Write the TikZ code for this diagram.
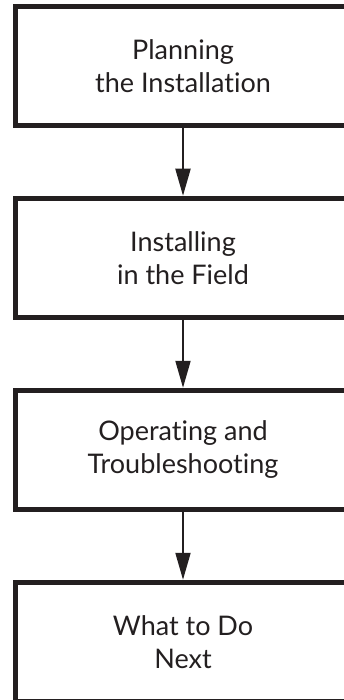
\documentclass[tikz,border=0pt]{standalone}
\usepackage{fontspec}
\setmainfont{Lato}[Ligatures=NoCommon]
\usetikzlibrary{arrows.meta}
\usetikzlibrary{positioning}
\definecolor{inkblack}{HTML}{231F20}
\tikzset{stage/.style = {draw=inkblack, text=inkblack, line width=5pt,
                         minimum width=335pt, minimum height=119pt,
                         align=center, font=\fontsize{27}{33}\selectfont},
         flow/.style = {draw=inkblack, line width=2pt,
                        -{Triangle[length=27pt, width=15pt]}}}

\begin{document}
\begin{tikzpicture}[x=1pt, y=-1pt]
      \clip (0, 0) rectangle (344, 700);
      \node [stage] (plan) at (183, 65.75) {Planning\\the Installation};
      \node [stage, below=68pt of plan] (install) {Installing\\in the Field};
      \node [stage, below=68pt of install] (operate) {Operating and\\Troubleshooting};
      \node [stage, below=68pt of operate] (next) {What to Do\\Next};
      \draw [flow] (plan) -- (install);
      \draw [flow] (install) -- (operate);
      \draw [flow] (operate) -- (next);
    \end{tikzpicture}
\end{document}
